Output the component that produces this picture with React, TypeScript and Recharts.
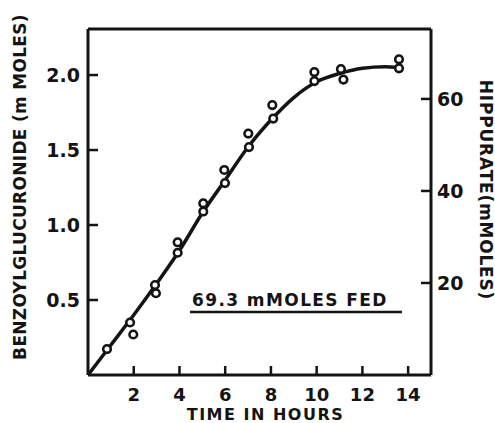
import React from 'react';
import {
  ComposedChart,
  Line,
  Scatter,
  XAxis,
  YAxis,
  ReferenceLine,
} from 'recharts';

// measured points (hours, mmoles benzoylglucuronide)
const hours = [0.83, 1.84, 1.98, 2.93, 2.97, 3.92, 3.92, 5.04, 5.04, 5.96, 5.99, 7.01, 7.04, 8.06, 8.1, 9.9, 9.9, 11.06, 11.17, 13.6, 13.6];
const benzoyl = [0.173, 0.35, 0.27, 0.6, 0.545, 0.885, 0.815, 1.145, 1.09, 1.367, 1.28, 1.61, 1.52, 1.8, 1.71, 2.02, 1.96, 2.04, 1.97, 2.105, 2.045];

// fitted curve as drawn on the figure
const curveHours = [0, 1, 2, 3, 4, 5, 6, 7, 8, 9, 10, 11, 12, 13, 13.6];
const curveValues = [0, 0.2, 0.4, 0.61, 0.83, 1.08, 1.3, 1.52, 1.7, 1.85, 1.955, 2.01, 2.045, 2.055, 2.05];

const xTicks = [2, 4, 6, 8, 10, 12, 14];
const leftTicks = [0.5, 1.0, 1.5, 2.0];
const rightTicks = [20, 40, 60];

const X_MAX = 15;
const Y_MAX = 2.307;
const HIPP_MAX = 75.2;

// "69.3 mMOLES FED" note, underline in data units
const noteText = '69.3 mMOLES FED';
const noteFrom = { x: 4.46, y: 0.42 };
const noteTo = { x: 13.73, y: 0.42 };

const points = hours.map((t, i) => ({ t, v: benzoyl[i] }));
const curve = curveHours.map((t, i) => ({ t, v: curveValues[i] }));

const INK = '#141414';
const FONT = '"DejaVu Sans", sans-serif';
const tickStyle = { fill: INK, fontFamily: FONT, fontWeight: 700, fontSize: 18 };

const OpenDot = (p: any) => (
  <circle cx={p.cx} cy={p.cy} r={3.8} fill="#fff" stroke={INK} strokeWidth={2.6} />
);

const LeftTitle = (p: any) => {
  const vb = p.viewBox || { x: 28, y: 29, width: 60, height: 346 };
  const x = vb.x - 8;
  const y = vb.y + vb.height / 2 - 15;
  return (
    <text x={x} y={y} transform={`rotate(-90 ${x} ${y})`} textAnchor="middle" dominantBaseline="central"
      fill={INK} fontFamily={FONT} fontWeight={700} fontSize={17} letterSpacing={0.3}>
      BENZOYLGLUCURONIDE (m MOLES)
    </text>
  );
};

const RightTitle = (p: any) => {
  const vb = p.viewBox || { x: 431, y: 29, width: 40, height: 346 };
  const x = vb.x + 55;
  const y = 190;
  return (
    <text x={x} y={y} transform={`rotate(90 ${x} ${y})`} textAnchor="middle" dominantBaseline="central"
      fill={INK} fontFamily={FONT} fontWeight={700} fontSize={17} letterSpacing={0.8}>
      HIPPURATE(mMOLES)
    </text>
  );
};

const BottomTitle = (p: any) => {
  const vb = p.viewBox || { x: 88, y: 375, width: 343, height: 30 };
  return (
    <text x={vb.x + vb.width / 2 + 6} y={420} textAnchor="middle"
      fill={INK} fontFamily={FONT} fontWeight={700} fontSize={16} letterSpacing={1.5}>
      TIME IN HOURS
    </text>
  );
};

const NoteLabel = (p: any) => {
  const vb = p.viewBox || { x: 190, y: 312 };
  return (
    <text x={vb.x + 2} y={vb.y - 6} fill={INK} fontFamily={FONT} fontWeight={700} fontSize={17} letterSpacing={1.4}>
      {noteText}
    </text>
  );
};

export default function App() {
  return (
    <div style={{ position: 'absolute', left: 0, top: 0, background: '#fff' }}>
      <ComposedChart width={495} height={423} margin={{ top: 29, right: 24, bottom: 18, left: 28 }}>
        <XAxis
          dataKey="t"
          type="number"
          domain={[0, X_MAX]}
          ticks={xTicks}
          height={30}
          axisLine={{ stroke: INK, strokeWidth: 3 }}
          tickLine={{ stroke: INK, strokeWidth: 2.5 }}
          tickSize={-9}
          tickMargin={22}
          tick={tickStyle}
          label={{ content: BottomTitle }}
        />
        <YAxis
          yAxisId="left"
          dataKey="v"
          type="number"
          domain={[0, Y_MAX]}
          ticks={leftTicks}
          tickFormatter={(v: number) => v.toFixed(1)}
          width={60}
          axisLine={{ stroke: INK, strokeWidth: 3 }}
          tickLine={{ stroke: INK, strokeWidth: 2.5 }}
          tickSize={-10}
          tickMargin={18}
          tick={{ ...tickStyle, fontSize: 19 }}
          label={{ content: LeftTitle }}
        />
        <YAxis
          yAxisId="right"
          orientation="right"
          type="number"
          domain={[0, HIPP_MAX]}
          allowDataOverflow
          ticks={rightTicks}
          width={40}
          axisLine={{ stroke: INK, strokeWidth: 3 }}
          tickLine={{ stroke: INK, strokeWidth: 2.5 }}
          tickSize={-10}
          tickMargin={16}
          tick={{ ...tickStyle, fontSize: 19 }}
          label={{ content: RightTitle }}
        />
        <ReferenceLine yAxisId="right" y={HIPP_MAX} stroke={INK} strokeWidth={3} ifOverflow="visible" />
        <ReferenceLine
          yAxisId="left"
          segment={[noteFrom, noteTo]}
          stroke={INK}
          strokeWidth={2.5}
          ifOverflow="visible"
          label={{ content: NoteLabel }}
        />
        <Line
          yAxisId="left"
          data={curve}
          dataKey="v"
          type="monotone"
          stroke={INK}
          strokeWidth={3.5}
          dot={false}
          activeDot={false}
          isAnimationActive={false}
        />
        <Scatter
          yAxisId="left"
          data={points}
          dataKey="v"
          shape={OpenDot}
          isAnimationActive={false}
        />
      </ComposedChart>
    </div>
  );
}
